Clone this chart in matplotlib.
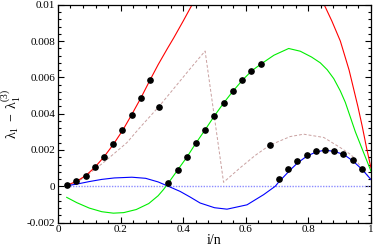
import numpy as np
import matplotlib
matplotlib.use('Agg')
import matplotlib.pyplot as plt
from matplotlib.ticker import MultipleLocator, FuncFormatter

plt.rcParams['font.family'] = ['Liberation Serif', 'DejaVu Serif']
plt.rcParams['mathtext.fontset'] = 'custom'
plt.rcParams['mathtext.rm'] = 'Liberation Serif'
plt.rcParams['mathtext.it'] = 'Liberation Serif:italic'
plt.rcParams['axes.unicode_minus'] = False

# red curve (two visible pieces, it runs above the top in between)
red1_x = [0.028, 0.06, 0.089, 0.118, 0.147, 0.177, 0.207, 0.235, 0.265, 0.294,
          0.32, 0.35, 0.37, 0.40, 0.43]
red1_y = [0.00005, 0.00028, 0.00059, 0.00105, 0.00162, 0.00231, 0.00309, 0.00393,
          0.00487, 0.00585, 0.00670, 0.00760, 0.00818, 0.00910, 0.01005]
red2_x = [0.845, 0.875, 0.902, 0.93, 0.958, 0.972, 0.986, 1.0]
red2_y = [0.0102, 0.0091, 0.0080, 0.0064, 0.0044, 0.0033, 0.0021, 0.0010]

# green curve
green_x = [0.028, 0.06, 0.10, 0.14, 0.177, 0.21, 0.25, 0.29, 0.32, 0.337, 0.353,
           0.382, 0.412, 0.44, 0.47, 0.499, 0.529, 0.559, 0.589, 0.619, 0.649,
           0.69, 0.737, 0.774, 0.81, 0.838, 0.86, 0.881, 0.902, 0.918, 0.95, 1.0]
green_y = [-0.00061, -0.00090, -0.00120, -0.00140, -0.00148, -0.00145, -0.00128,
           -0.00095, -0.00052, -0.00018, 0.00019, 0.00089, 0.00161, 0.00236,
           0.00311, 0.00386, 0.00458, 0.00524, 0.00584, 0.00636, 0.00674,
           0.00722, 0.00759, 0.00744, 0.00712, 0.00680, 0.00642, 0.00593,
           0.00525, 0.00462, 0.00300, 0.00083]

# blue curve
blue_x = [0.028, 0.06, 0.10, 0.14, 0.18, 0.236, 0.28, 0.32, 0.35, 0.39, 0.422,
          0.454, 0.50, 0.54, 0.604, 0.657, 0.694, 0.706, 0.742, 0.765, 0.795,
          0.8245, 0.853, 0.883, 0.913, 0.942, 0.972, 1.0]
blue_y = [0.00003, 0.00012, 0.00026, 0.00038, 0.00046, 0.00050, 0.00044, 0.00024,
          0.00002, -0.00028, -0.00059, -0.00092, -0.00118, -0.00126, -0.00102,
          -0.00046, 0.0, 0.00025, 0.00090, 0.00128, 0.00166, 0.00189, 0.00199,
          0.00192, 0.00175, 0.00140, 0.00092, 0.00037]

# dashed curve
dash_x = [0.028, 0.06, 0.092, 0.145, 0.22, 0.262, 0.323, 0.4224, 0.470, 0.529,
          0.582, 0.63, 0.676, 0.742, 0.785, 0.849, 0.902, 0.934, 0.95, 0.972, 1.0]
dash_y = [0.00004, 0.00020, 0.00060, 0.00130, 0.00240, 0.00324, 0.00440, 0.00648,
          0.00745, 0.00022, 0.00102, 0.00170, 0.00226, 0.00274, 0.00287, 0.00269,
          0.00213, 0.00176, 0.00150, 0.00095, 0.00037]

# zero reference
zero_x = [0.028, 1.0]
zero_y = [0.0, 0.0]

# points at i/n, n = 34
pts_x = [0.0294, 0.0588, 0.0882, 0.1176, 0.1471, 0.1765, 0.2059, 0.2353, 0.2647,
         0.2941, 0.3235, 0.3529, 0.3824, 0.4118, 0.4412, 0.4706, 0.5, 0.5294,
         0.5588, 0.5882, 0.6176, 0.6471, 0.6765, 0.7059, 0.7353, 0.7647, 0.7941,
         0.8235, 0.8529, 0.8824, 0.9118, 0.9412, 0.9706]
pts_y = [0.00005, 0.00028, 0.00059, 0.00106, 0.00163, 0.00232, 0.00309, 0.00394,
         0.00487, 0.00585,
         0.00439,
         0.00019, 0.00089, 0.00161, 0.00236, 0.00311, 0.00386, 0.00458, 0.00524,
         0.00584, 0.00636, 0.00674,
         0.00226,
         0.00039, 0.00093, 0.00137, 0.00172, 0.00193, 0.00202, 0.00194, 0.00180,
         0.00143, 0.00097]

fig = plt.figure(figsize=(3.74, 2.49), dpi=100)
ax = fig.add_axes([0.155, 0.106, 0.837, 0.875])

lw = 0.8
ax.plot(zero_x, zero_y, color='#8c8cff', lw=1.0, ls=(0, (1, 1)))
ax.plot(dash_x, dash_y, color='#c9a0a0', lw=0.7, ls=(0, (3, 2)))
ax.plot(red1_x, red1_y, color='#ff0000', lw=lw)
ax.plot(red2_x, red2_y, color='#ff0000', lw=lw)
ax.plot(green_x, green_y, color='#00ee00', lw=lw)
ax.plot(blue_x, blue_y, color='#0000ff', lw=lw)
ax.plot(pts_x, pts_y, 'o', color='black', ms=3.8, zorder=5)

ax.set_xlim(0, 1)
ax.set_ylim(-0.002, 0.01)
ax.xaxis.set_major_locator(MultipleLocator(0.2))
ax.xaxis.set_minor_locator(MultipleLocator(0.04))
ax.yaxis.set_major_locator(MultipleLocator(0.002))
ax.yaxis.set_minor_locator(MultipleLocator(0.0004))
fmt = FuncFormatter(lambda v, p: '%g' % round(v, 6))
ax.xaxis.set_major_formatter(fmt)
ax.yaxis.set_major_formatter(fmt)
ax.tick_params(which='both', direction='in', top=True, right=True, labelsize=8,
               width=0.8, pad=2)
ax.tick_params(which='major', length=4.5)
ax.tick_params(which='minor', length=2.2)
for s in ax.spines.values():
    s.set_linewidth(0.9)

ax.set_xlabel('i/n', fontsize=10, labelpad=0)
ax.set_ylabel(r'$\mathrm{\lambda_1\ -\ \lambda_1^{(3)}}$', fontsize=10, labelpad=3)

fig.savefig('out.png', dpi=100)
